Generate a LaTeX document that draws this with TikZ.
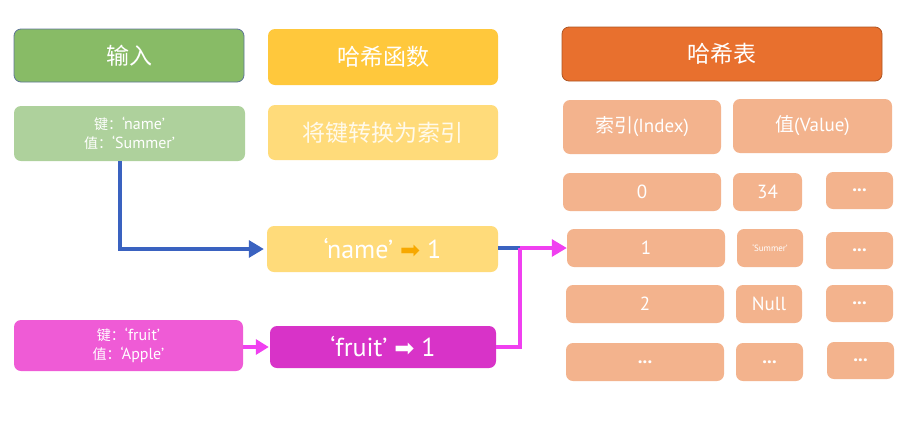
\documentclass[tikz,border=0pt]{standalone}
\usepackage{fontspec}
\setmainfont{PT Sans}
\newfontfamily\cjk{Noto Sans CJK SC}
\newfontfamily\sym{DejaVu Sans}
\usepackage{xcolor}
\definecolor{hsGreen}{HTML}{88BB66}
\definecolor{hsGreenLight}{HTML}{AED19C}
\definecolor{hsYellow}{HTML}{FFC83C}
\definecolor{hsYellowLight}{HTML}{FFDB7A}
\definecolor{hsOrange}{HTML}{E8702E}
\definecolor{hsOrangeLight}{HTML}{F3B38D}
\definecolor{hsPink}{HTML}{EF5BD6}
\definecolor{hsMagenta}{HTML}{D833C8}
\definecolor{hsBlue}{HTML}{3A62C0}
\definecolor{hsArrow}{HTML}{F040F0}
\definecolor{hsGold}{HTML}{F7A800}
\usetikzlibrary{arrows.meta}
\tikzset{box/.style={rounded corners=7pt, text=white, inner sep=0pt, align=center}}
\tikzset{head box/.style={box, font=\cjk\fontsize{23}{26}\selectfont}}
\tikzset{pair box/.style={box, font=\fontsize{16}{19}\selectfont}}
\tikzset{map box/.style={box, fill=hsYellowLight, font=\fontsize{26}{28}\selectfont}}
\tikzset{cell/.style={box, fill=hsOrangeLight, font=\fontsize{19}{21}\selectfont}}
\tikzset{link/.style={line width=3.2pt, -{Triangle[length=15pt,width=17pt]}}}
\newcommand{\zh}[1]{{\cjk\fontsize{14}{19}\selectfont #1}}
\newcommand{\maparrow}[1]{{\sym\color{#1}\fontsize{24}{28}\selectfont\char"27A1}}
\newcommand{\more}{{\bfseries...}}

\begin{document}
\begin{tikzpicture}[x=1pt, y=-1pt]
\useasboundingbox (0,0) rectangle (917,426);
% column heads
\node[head box, fill=hsGreen, draw=hsGreen!60!blue!70!gray, line width=0.8pt, minimum width=230pt, minimum height=53pt](input) at (129,55.5){输入};
\node[head box, fill=hsYellow, minimum width=230pt, minimum height=56pt](hashfn) at (383,57){哈希函数};
\node[head box, fill=hsOrange, draw=hsOrange!75!black, line width=0.8pt, minimum width=320pt, minimum height=54pt](table) at (722,54){哈希表};
% input pairs
\node[pair box, fill=hsGreenLight, minimum width=231pt, minimum height=55pt](kname) at (129.5,133.5){\zh{键：}‘name’\\\zh{值：}‘Summer’};
\node[pair box, fill=hsPink, minimum width=229pt, minimum height=51pt](kfruit) at (128.5,345.5){\zh{键：}‘fruit’\\\zh{值：}‘Apple’};
% hash function
\node[head box, fill=hsYellowLight, text=white!85!hsYellowLight, minimum width=230pt, minimum height=55pt](rule) at (383,132.5){将键转换为索引};
\node[map box, minimum width=231pt, minimum height=46pt](hname) at (382.5,249){‘name’ \maparrow{hsGold} 1};
\node[map box, fill=hsMagenta, minimum width=226pt, minimum height=42pt](hfruit) at (383,347){‘fruit’ \maparrow{white} 1};
% hash table
\node[cell, minimum width=158pt, minimum height=54pt](idx) at (642,127){\zh{\fontsize{19}{21}\selectfont 索引}(Index)};
\node[cell, minimum width=159pt, minimum height=54pt](val) at (812.5,126){\zh{\fontsize{19}{21}\selectfont 值}(Value)};
\node[cell, minimum width=158pt, minimum height=38pt](i0) at (642,192){0};
\node[cell, minimum width=69pt, minimum height=38pt](v0) at (767.5,192){34};
\node[cell, minimum width=67pt, minimum height=37pt](e0) at (859.5,190.5){\more};
\node[cell, minimum width=158pt, minimum height=38pt](i1) at (646,248){1};
\node[cell, font=\fontsize{9}{10}\selectfont, minimum width=66pt, minimum height=38pt](v1) at (770,248){‘Summer’};
\node[cell, minimum width=67pt, minimum height=37pt](e1) at (859.5,250.5){\more};
\node[cell, minimum width=158pt, minimum height=38pt](i2) at (645,304){2};
\node[cell, minimum width=66pt, minimum height=38pt](v2) at (769,304){Null};
\node[cell, minimum width=67pt, minimum height=37pt](e2) at (859.5,303.5){\more};
\node[cell, minimum width=158pt, minimum height=38pt](i3) at (645,362){\more};
\node[cell, minimum width=67pt, minimum height=38pt](v3) at (769.5,362){\more};
\node[cell, minimum width=67pt, minimum height=37pt](e3) at (860.5,360.5){\more};
% connectors
\coordinate (join) at (520,248);
\draw[link, hsBlue, shorten >=3pt] ([xshift=-9.5pt]kname.south) |- (hname.west);
\draw[line width=3.2pt, hsBlue] (hname.east |- join) -- (join);
\draw[line width=3.2pt, hsArrow] (hfruit.east) -| (join);
\draw[link, hsArrow] (join) -- (i1.west);
\draw[line width=3.2pt, hsArrow, -{Triangle[length=13pt,width=15pt]}, shorten >=1pt] (kfruit.east |- hfruit.west) -- (hfruit.west);
\end{tikzpicture}
\end{document}
